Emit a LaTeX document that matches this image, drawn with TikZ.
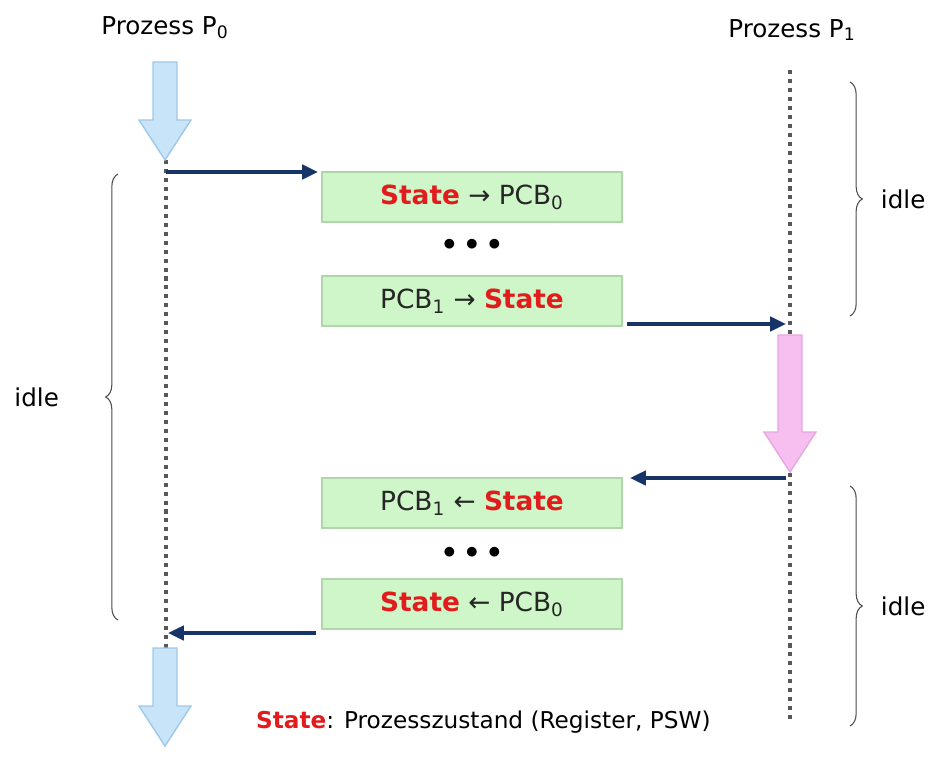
\documentclass[tikz,border=0pt]{standalone}
\usepackage{fontspec}
\setmainfont{DejaVu Sans}
\usetikzlibrary{arrows.meta, positioning, decorations.pathreplacing}

\definecolor{navy}{RGB}{22,52,104}
\definecolor{statered}{RGB}{226,28,28}
\definecolor{boxgreen}{RGB}{206,246,200}
\definecolor{boxedge}{RGB}{178,214,172}
\definecolor{lightblue}{RGB}{200,228,248}
\definecolor{blueedge}{RGB}{160,200,232}
\definecolor{pink}{RGB}{247,190,240}
\definecolor{pinkedge}{RGB}{228,168,222}
\definecolor{dotgray}{RGB}{88,88,88}

\newcommand{\St}{\textcolor{statered}{\textbf{State}}}
% fat arrow: x, top, bottom, fill, edge
\newcommand{\blockarrow}[5]{%
  \draw[#5, fill=#4, line width=0.8pt]
    (#1-12,#2) -- (#1+12,#2) -- (#1+12,#3-40) -- (#1+26,#3-40) -- (#1,#3)
    -- (#1-26,#3-40) -- (#1-12,#3-40) -- cycle;}

\begin{document}
\begin{tikzpicture}[x=0.02cm, y=-0.02cm,
    statebox/.style={draw=boxedge, fill=boxgreen, line width=0.8pt,
      minimum width=300*0.02cm, minimum height=50*0.02cm, font=\fontsize{15}{18}\selectfont,
      text=black!85},
    timeline/.style={dotgray, line width=2.3pt, dash pattern=on 2.3pt off 2.8pt},
    handover/.style={navy, line width=2.2pt, -{Triangle[length=9pt, width=8pt]}},
    idlebrace/.style={black!70, line width=0.6pt, decorate,
      decoration={brace, amplitude=7pt}},
    lbl/.style={font=\fontsize{14}{17}\selectfont, text=black}]
    \useasboundingbox (0,0) rectangle (946,760);

    % Process titles
    \node[lbl] (p0title) at (165,28) {Prozess P\textsubscript{0}};
    \node[lbl] (p1title) at (792,30) {Prozess P\textsubscript{1}};

    % Time lines
    \coordinate (p0top) at (166,160);
    \coordinate (p0bot) at (166,648);
    \coordinate (p1top) at (790,70);
    \coordinate (p1bot) at (790,722);
    \draw[timeline] (p0top) -- (p0bot);
    \draw[timeline] (p1top) -- (p1bot);

    % Running phases
    \blockarrow{165}{62}{160}{lightblue}{blueedge}
    \blockarrow{790}{335}{472}{pink}{pinkedge}
    \blockarrow{165}{648}{746}{lightblue}{blueedge}

    % Context switch steps
    \node[statebox] (save0) at (472,197) {\St\ → PCB\textsubscript{0}};
    \node (dots1) at (472,245) {\Large $\bullet\,\bullet\,\bullet$};
    \node[statebox] (load1) at (472,301) {PCB\textsubscript{1} → \St};
    \node[statebox] (save1) at (472,503) {PCB\textsubscript{1} ← \St};
    \node (dots2) at (472,553) {\Large $\bullet\,\bullet\,\bullet$};
    \node[statebox] (load0) at (472,604) {\St\ ← PCB\textsubscript{0}};

    % Handover arrows
    \coordinate (p0out) at (166,172);
    \coordinate (in0) at (318,172);
    \coordinate (out1) at (627,324);
    \coordinate (p1in) at (786,324);
    \coordinate (p1out) at (786,478);
    \coordinate (in1) at (630,478);
    \coordinate (out0) at (316,633);
    \coordinate (p0in) at (168,633);
    \draw[handover] (p0out) -- (in0);
    \draw[handover] (out1) -- (p1in);
    \draw[handover] (p1out) -- (in1);
    \draw[handover] (out0) -- (p0in);

    % Idle braces
    \draw[idlebrace] (118,620) -- (118,174) node[midway, left=30pt, lbl] (idle0) {idle};
    \draw[idlebrace] (850,82) -- (850,316) node[midway, right=14pt, lbl] (idle1a) {idle};
    \draw[idlebrace] (850,486) -- (850,726) node[midway, right=14pt, lbl] (idle1b) {idle};

    % Legend
    \node[font=\fontsize{13.2}{16}\selectfont, anchor=west] (legend) at (250,722)
      {\St: Prozesszustand (Register, PSW)};
\end{tikzpicture}
\end{document}
